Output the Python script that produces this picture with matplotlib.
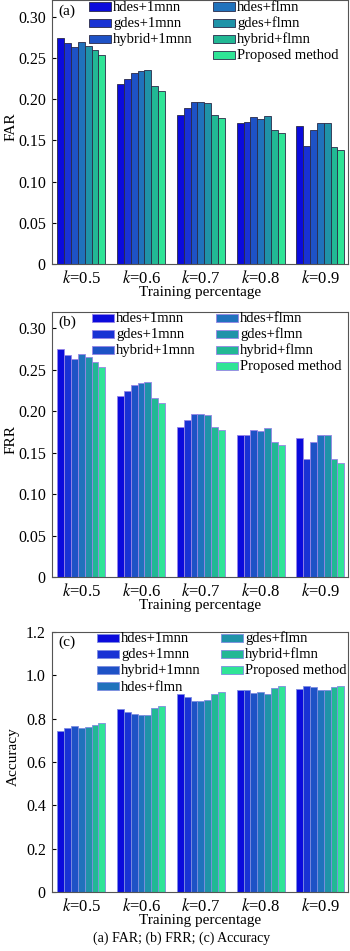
import matplotlib
matplotlib.use('agg')

import matplotlib.pyplot as plt
from matplotlib.patches import Patch, Rectangle
from matplotlib.legend_handler import HandlerPatch
from matplotlib.ticker import FuncFormatter
import numpy as np

plt.rcParams['font.family'] = ['Liberation Serif', 'DejaVu Serif']
plt.rcParams['mathtext.fontset'] = 'stix'

groups = ['$k$=0.5', '$k$=0.6', '$k$=0.7', '$k$=0.8', '$k$=0.9']
methods = ['hdes+1mnn', 'gdes+1mnn', 'hybrid+1mnn', 'hdes+flmn',
           'gdes+flmn', 'hybrid+flmn', 'Proposed method']
colors = ['#0b0bdc', '#1932d4', '#1e52c6', '#2072bc',
          '#1f93a8', '#22b894', '#2fe496']

# rows = methods, columns = k groups
far = [
    [0.275, 0.219, 0.181, 0.171, 0.168],
    [0.268, 0.225, 0.190, 0.172, 0.143],
    [0.263, 0.232, 0.197, 0.178, 0.163],
    [0.269, 0.234, 0.197, 0.176, 0.171],
    [0.265, 0.236, 0.196, 0.180, 0.171],
    [0.260, 0.216, 0.181, 0.163, 0.142],
    [0.254, 0.210, 0.177, 0.159, 0.138],
]
frr = [
    [0.275, 0.219, 0.181, 0.171, 0.168],
    [0.268, 0.225, 0.190, 0.172, 0.143],
    [0.263, 0.232, 0.197, 0.178, 0.163],
    [0.269, 0.234, 0.197, 0.176, 0.171],
    [0.265, 0.236, 0.196, 0.180, 0.171],
    [0.260, 0.216, 0.181, 0.163, 0.142],
    [0.254, 0.210, 0.177, 0.159, 0.138],
]
accuracy = [
    [0.745, 0.847, 0.913, 0.932, 0.938],
    [0.759, 0.833, 0.898, 0.932, 0.949],
    [0.767, 0.821, 0.883, 0.919, 0.945],
    [0.756, 0.816, 0.883, 0.921, 0.931],
    [0.764, 0.816, 0.885, 0.915, 0.931],
    [0.772, 0.851, 0.912, 0.944, 0.948],
    [0.782, 0.859, 0.923, 0.951, 0.951],
]

fig = plt.figure(figsize=(3.5, 9.51), dpi=100)


def short_box(legend, orig_handle, xdescent, ydescent, width, height, fontsize):
    # thin swatch, centred in a taller handle box so all rows get the same height
    h = 0.55 * fontsize
    return Rectangle((-xdescent, -ydescent + (height - h) / 2 - 0.05 * fontsize), width, h)


def draw_panel(rect, data, ylabel, tag, ylim, yticks, decimals, edge, legend_x, split, ylabel_x):
    ax = fig.add_axes(rect)
    x = np.arange(len(groups))
    n = len(methods)
    w = 0.8 / n
    for i in range(n):
        ax.bar(x - 0.4 + w * (i + 0.5), data[i], width=w, color=colors[i],
               edgecolor=edge, linewidth=0.6, label=methods[i])
    ax.set_xlim(-0.49, 4.46)
    ax.set_ylim(*ylim)
    ax.set_yticks(yticks)
    fmt = '%.' + str(decimals) + 'f'
    ax.yaxis.set_major_formatter(FuncFormatter(lambda v, p: '0' if abs(v) < 1e-9 else fmt % v))
    ax.set_xticks(x)
    ax.set_xticklabels(groups)
    ax.tick_params(axis='y', direction='in', length=3, pad=4.5, labelsize=11.5)
    ax.tick_params(axis='x', direction='in', length=0, pad=4.5, labelsize=12)
    ax.set_xlabel('Training percentage', fontsize=11, labelpad=-1)
    ax.set_ylabel(ylabel, fontsize=11)
    ax.yaxis.set_label_coords(ylabel_x, 0.52)
    ax.text(0.02, 0.985, tag, transform=ax.transAxes, va='top', ha='left', fontsize=11)
    for sp in ax.spines.values():
        sp.set_linewidth(0.8)
        sp.set_color('#555555')

    handles = [Patch(facecolor=colors[i], edgecolor=edge, linewidth=0.6) for i in range(n)]
    labels = list(methods)
    if split:
        # left column keeps three entries, right column four
        handles.insert(3, Patch(facecolor='none', edgecolor='none'))
        labels.insert(3, '')
    ax.legend(handles, labels, ncol=2, loc='upper left', bbox_to_anchor=(legend_x, 1.005),
              frameon=False, fontsize=10.5, borderpad=0, borderaxespad=0,
              labelspacing=0.1, handlelength=1.5, handleheight=1.02,
              handletextpad=0.15, columnspacing=1.4,
              handler_map={Patch: HandlerPatch(patch_func=short_box)})
    return ax


draw_panel([0.1486, 0.7224, 0.8454, 0.2771], far, 'FAR', '(a)', (0, 0.32),
           np.arange(0, 0.31, 0.05), 2, '#2a2a48', 0.125, True, -0.115)
draw_panel([0.1486, 0.3933, 0.8454, 0.2787], frr, 'FRR', '(b)', (0, 0.32),
           np.arange(0, 0.31, 0.05), 2, '#9684e6', 0.135, True, -0.115)
draw_panel([0.1486, 0.0620, 0.8454, 0.2734], accuracy, 'Accuracy', '(c)', (0, 1.2),
           np.arange(0, 1.21, 0.2), 1, '#7d8ce0', 0.152, False, -0.108)

fig.text(0.52, 1 - 938 / 951, '(a) FAR; (b) FRR; (c) Accuracy', ha='center', va='center',
         fontsize=10)

fig.savefig('out.png', dpi=100)
